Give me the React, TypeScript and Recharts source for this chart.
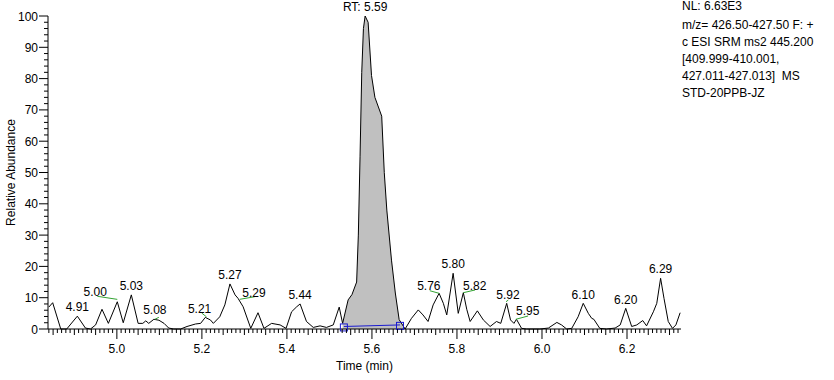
import React from "react";
import {
  Area,
  ComposedChart,
  Label,
  Line,
  ReferenceDot,
  ReferenceLine,
  XAxis,
  YAxis,
} from "recharts";

// retention time (min) and relative abundance (%)
const times = [
  4.84, 4.849, 4.868, 4.882, 4.907, 4.926, 4.938, 4.95, 4.965, 4.98,
  5.001, 5.015, 5.034, 5.05, 5.061, 5.068, 5.075, 5.087, 5.099, 5.111,
  5.122, 5.134, 5.15, 5.165, 5.185, 5.197, 5.208, 5.22, 5.227, 5.242,
  5.254, 5.266, 5.278, 5.285, 5.297, 5.315, 5.332, 5.346, 5.364, 5.384,
  5.398, 5.411, 5.423, 5.431, 5.446, 5.462, 5.478, 5.493, 5.509, 5.523,
  5.531, 5.544, 5.553, 5.564, 5.568, 5.572, 5.576, 5.58, 5.584, 5.591,
  5.599, 5.607, 5.623, 5.629, 5.635, 5.646, 5.655, 5.664, 5.678, 5.693,
  5.709, 5.72, 5.732, 5.744, 5.758, 5.768, 5.776, 5.791, 5.803, 5.815,
  5.823, 5.831, 5.848, 5.862, 5.878, 5.893, 5.903, 5.917, 5.926, 5.934,
  5.94, 5.952, 5.964, 5.995, 6.015, 6.035, 6.046, 6.058, 6.07, 6.085,
  6.097, 6.109, 6.117, 6.122, 6.136, 6.152, 6.172, 6.184, 6.197, 6.211,
  6.223, 6.237, 6.246, 6.262, 6.27, 6.279, 6.287, 6.297, 6.307, 6.315,
  6.325,
];
const abundance = [
  7.0, 8.4, 0, 0, 4.1, 0.3, 0, 1.3, 6.3, 1.8,
  8.7, 2.0, 10.9, 1.8, 1.8, 2.6, 1.8, 3.1, 2.8, 1.8,
  0.3, 0, 0, 0.8, 1.6, 1.8, 3.7, 2.9, 1.8, 3.9,
  7.7, 14.4, 10.9, 9.8, 7.1, 0.2, 5.2, 0.2, 1.8, 1.3,
  0.2, 5.5, 7.1, 8.0, 2.4, 0.5, 1.0, 0.5, 1.3, 7.0,
  1.8, 9.3, 11.0, 15.0, 30, 55, 82, 96, 100, 98,
  81, 74, 68, 50, 38, 22, 11.5, 3, 0, 3.4,
  6.1, 4.5, 2.4, 7.7, 11.4, 8.2, 4.5, 17.8, 5.0, 11.6,
  6.3, 2.4, 5.8, 2.9, 0.8, 2.4, 1.8, 8.2, 2.9, 1.8,
  3.1, 0.2, 0, 0, 0.3, 2.1, 1.3, 0, 0.2, 3.9,
  8.2, 5.0, 3.4, 3.1, 0.2, 0, 0.3, 1.3, 6.6, 0.8,
  1.3, 2.7, 1.0, 5.5, 8.2, 16.2, 9.8, 2.4, 0.2, 1.3,
  5.2,
];

// integrated peak window and its baseline
const peakStart = 5.531;
const peakEnd = 5.678;
const baselineTimes = [5.534, 5.666];
const baselineLevels = [0.8, 1.3];

// apex labels
const labelTimes = [
  4.907, 5.001, 5.034, 5.087, 5.208, 5.266, 5.285, 5.431, 5.584,
  5.758, 5.791, 5.815, 5.917, 5.94, 6.097, 6.197, 6.279,
];
const labelLevels = [
  4.1, 8.7, 10.9, 3.1, 3.7, 14.4, 9.8, 8.0, 100,
  11.4, 17.8, 11.6, 8.2, 3.1, 8.2, 6.6, 16.2,
];
const labelTexts = [
  "4.91", "5.00", "5.03", "5.08", "5.21", "5.27", "5.29", "5.44", "RT: 5.59",
  "5.76", "5.80", "5.82", "5.92", "5.95", "6.10", "6.20", "6.29",
];

const xLabelTicks = [5.0, 5.2, 5.4, 5.6, 5.8, 6.0, 6.2];
const yLabelTicks = [0, 10, 20, 30, 40, 50, 60, 70, 80, 90, 100];

const headerLines = [
  "NL: 6.63E3",
  "m/z= 426.50-427.50 F: +",
  "c ESI SRM ms2 445.200",
  "[409.999-410.001,",
  "427.011-427.013]  MS",
  "STD-20PPB-JZ",
];

const FONT = "'Liberation Sans', Arial, sans-serif";
const GREEN = "#33a333";
const BLUE = "#1a1ad0";

// pixel nudges for the apex labels: text offset and optional leader line
const labelStyle: Record<string, { dx: number; dy: number; lead?: number[] }> = {
  "5.00": { dx: -22, dy: -5.5, lead: [-20, -5.5, 0, -2.4] },
  "5.08": { dx: 1, dy: -5.3, lead: [1, 0, 5, -2] },
  "5.21": { dx: -5.7, dy: -4.6, lead: [-3.5, -4.3, 1.2, -0.6] },
  "5.29": { dx: 16, dy: -1.6, lead: [1.7, 1, 16.7, -1.6] },
  "5.76": { dx: -10.3, dy: -3.3, lead: [-9.3, -2.6, 0, 0] },
  "5.82": { dx: 11.4, dy: -2.7, lead: [0, 0, 11.7, -2.7] },
  "5.92": { dx: 1.3, dy: -4, lead: [-0.7, -1.6, 1.6, -3.3] },
  "5.95": { dx: 11.3, dy: -4.3, lead: [-0.7, 0, 11.6, -3.3] },
};

const data = times.map((t, i) => ({
  t,
  y: abundance[i],
  peak: t >= peakStart && t <= peakEnd ? abundance[i] : null,
}));

const xTicks: number[] = [];
for (let k = 484; k <= 632; k++) xTicks.push(k / 100);
const yTicks: number[] = [];
for (let k = 0; k <= 100; k += 2) yTicks.push(k);

const isOn = (v: number, step: number) =>
  Math.abs(v / step - Math.round(v / step)) < 1e-6;

function XTick(props: any) {
  const { x, y, payload } = props;
  const v = payload.value as number;
  const major = xLabelTicks.some((m) => Math.abs(m - v) < 1e-6);
  const len = major ? 10 : isOn(v, 0.05) ? 6 : 4;
  return (
    <g>
      <line x1={x} y1={y} x2={x} y2={y + len} stroke="#000" />
      {major && (
        <text x={x} y={y + 23.5} textAnchor="middle" fontSize={12} fontFamily={FONT} fill="#000">
          {v.toFixed(1)}
        </text>
      )}
    </g>
  );
}

function YTick(props: any) {
  const { x, y, payload } = props;
  const v = payload.value as number;
  const major = yLabelTicks.includes(v);
  return (
    <g>
      <line x1={x - (major ? 9 : 4)} y1={y} x2={x} y2={y} stroke="#000" />
      {major && (
        <text x={x - 10} y={y + 4.5} textAnchor="end" fontSize={12} fontFamily={FONT} fill="#000">
          {v}
        </text>
      )}
    </g>
  );
}

function apexLabel(text: string) {
  return (props: any) => {
    const { cx, cy } = props;
    const s = labelStyle[text] || { dx: 0, dy: -4.8 };
    return (
      <g>
        {s.lead && (
          <line
            x1={cx + s.lead[0]}
            y1={cy + s.lead[1]}
            x2={cx + s.lead[2]}
            y2={cy + s.lead[3]}
            stroke={GREEN}
          />
        )}
        <text x={cx + s.dx} y={cy + s.dy} textAnchor="middle" fontSize={12} fontFamily={FONT} fill="#000">
          {text}
        </text>
      </g>
    );
  };
}

function boxMark(props: any) {
  const { cx, cy } = props;
  return <rect x={cx - 3.5} y={cy - 3.5} width={7} height={7} fill="none" stroke={BLUE} />;
}

export default function App() {
  return (
    <div style={{ position: "absolute", left: 0, top: 0, width: 834, height: 380, background: "#fff" }}>
      <ComposedChart
        width={834}
        height={380}
        data={data}
        margin={{ top: 16, right: 153, bottom: 21, left: 0 }}
      >
        <XAxis
          dataKey="t"
          type="number"
          domain={[4.838, 6.327]}
          allowDataOverflow
          ticks={xTicks}
          interval={0}
          tick={<XTick />}
          tickLine={false}
          tickSize={0}
          tickMargin={0}
          height={30}
          stroke="#000"
        >
          <Label
            content={(p: any) => (
              <text
                x={p.viewBox.x + p.viewBox.width / 2}
                y={p.viewBox.y + 41}
                textAnchor="middle"
                fontSize={12}
                fontFamily={FONT}
                fill="#000"
              >
                Time (min)
              </text>
            )}
          />
        </XAxis>
        <YAxis
          type="number"
          domain={[0, 100]}
          ticks={yTicks}
          interval={0}
          tick={<YTick />}
          tickLine={false}
          tickSize={0}
          tickMargin={0}
          width={48}
          stroke="#000"
        >
          <Label
            content={(p: any) => {
              const cx = p.viewBox.x + 11;
              const cy = p.viewBox.y + p.viewBox.height / 2;
              return (
                <text
                  x={cx}
                  y={cy}
                  transform={`rotate(-90 ${cx} ${cy})`}
                  textAnchor="middle"
                  dominantBaseline="central"
                  fontSize={12}
                  fontFamily={FONT}
                  fill="#000"
                >
                  Relative Abundance
                </text>
              );
            }}
          />
        </YAxis>
        <Area
          dataKey="peak"
          type="linear"
          fill="#c0c0c0"
          fillOpacity={1}
          stroke="none"
          isAnimationActive={false}
          connectNulls={false}
        />
        <Line
          dataKey="y"
          type="linear"
          stroke="#000"
          strokeWidth={1}
          dot={false}
          isAnimationActive={false}
        />
        <ReferenceLine
          segment={[
            { x: baselineTimes[0], y: baselineLevels[0] },
            { x: baselineTimes[1], y: baselineLevels[1] },
          ]}
          stroke={BLUE}
        />
        {baselineTimes.map((t, i) => (
          <ReferenceDot key={`b${i}`} x={t} y={baselineLevels[i] - 0.3} r={3} shape={boxMark} />
        ))}
        {labelTimes.map((t, i) => (
          <ReferenceDot
            key={labelTexts[i]}
            x={t}
            y={labelLevels[i]}
            r={0}
            shape={apexLabel(labelTexts[i])}
          />
        ))}
      </ComposedChart>
      <svg
        width={153}
        height={110}
        style={{ position: "absolute", left: 681, top: 0 }}
        fontFamily={FONT}
        fontSize={12}
      >
        {headerLines.map((s, i) => (
          <text key={s} x={1} y={i === 0 ? 10 : 12 + i * 17} fill="#000" xmlSpace="preserve">
            {s}
          </text>
        ))}
      </svg>
    </div>
  );
}
